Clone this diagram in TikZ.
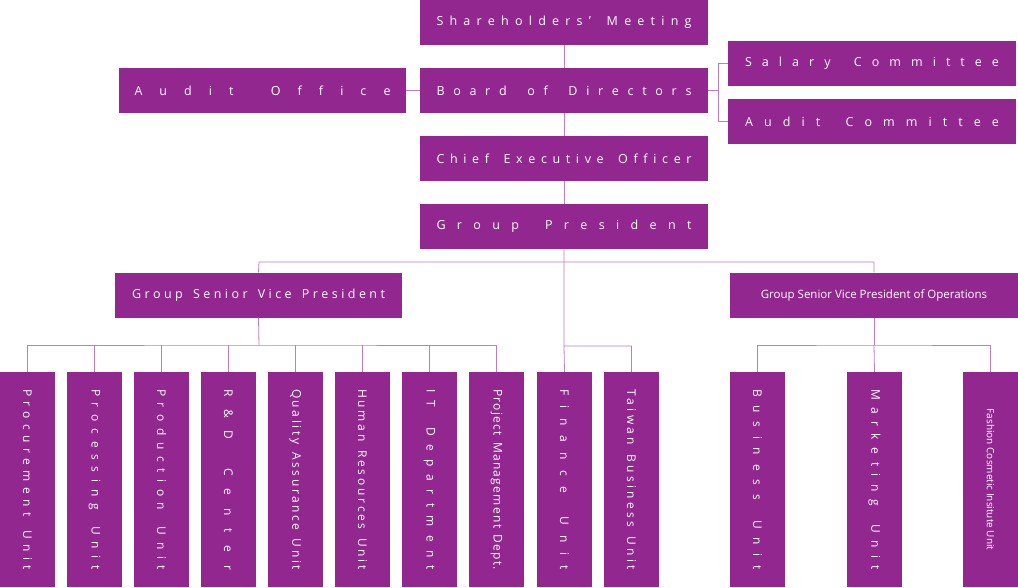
\documentclass[tikz,border=0pt]{standalone}
\usepackage{fontspec}
\setmainfont{Open Sans}
\ExplSyntaxOn
\cs_generate_variant:Nn \tl_map_inline:nn {o}
\NewDocumentCommand\spread{m m}{\makebox[#1pt][s]{\tl_map_inline:on{#2}{##1\hfil}\unskip}}
\ExplSyntaxOff
\definecolor{pu}{HTML}{92278F}
\definecolor{ln}{HTML}{C27BC0}
\begin{document}
\begin{tikzpicture}[x=1pt,y=-1pt,
 box/.style={fill=pu,text=white,inner sep=0,font=\fontsize{12.5}{14}\selectfont},
 hb/.style={box,minimum width=288,minimum height=45},
 vb/.style={box,minimum width=215,minimum height=55,rotate=-90,font=\fontsize{12}{14}\selectfont},
 ln/.style={draw=ln,line width=0.8pt}]
\useasboundingbox (0,0) rectangle (1018,587);
\node[hb] (sh) at (564,22.5) {\spread{255}{Shareholders'~Meeting}};
\node[hb] (bd) at (564,90.5) {\spread{255}{Board~of~Directors}};
\node[hb,minimum width=287] (ao) at (262.5,90.5) {\spread{256}{Audit~Office}};
\node[hb] (sc) at (872,63.5) {\spread{254}{Salary~Committee}};
\node[hb] (ac) at (872,121.5) {\spread{254}{Audit~Committee}};
\node[hb] (ceo) at (564,158.5) {\spread{255}{Chief~Executive~Officer}};
\node[hb] (gp) at (564,226.5) {\spread{255}{Group~President}};
\node[hb,minimum width=287] (gs) at (258.5,295) {\spread{253}{Group~Senior~Vice~President}};
\node[hb,font=\fontsize{11.5}{14}\selectfont] (go) at (874,295) {Group Senior Vice President of Operations};
\foreach \n/\x/\t in {p1/27.5/Procurement~Unit,p2/94.5/Processing~Unit,p3/161.5/Production~Unit,p4/228.5/R\&D~Center,p5/295.5/Quality~Assurance~Unit,p6/362.5/Human~Resources~Unit,p7/429.5/IT~Department,p8/496.5/Project~Management~Dept.,f1/564.5/Finance~Unit,f2/631.5/Taiwan~Business~Unit,o1/757.5/Business~Unit,o2/874.5/Marketing~Unit}
 \node[vb] (\n) at (\x,479.5) {\spread{181}{\t}};
\node[vb,font=\fontsize{10}{12}\selectfont] (o3) at (990.5,479.5) {Fashion Cosmetic Insitute Unit};
\draw[ln] (sh) -- (bd) (bd) -- (ceo) (ceo) -- (gp) (ao) -- (bd);
\draw[ln] (bd.east) -- ++(10,0) coordinate (k) (k |- sc.west) -- (k |- ac.west) (k |- sc.west) -- (sc.west) (k |- ac.west) -- (ac.west);
\draw[ln] (gp.south) -- (564,346) coordinate (fj) -| (f2.west) (fj) -- (f1.west);
\draw[ln] (gs.north) -- (259,262) -| (go.north);
\draw[ln] (gs.south) -- (259,345) coordinate (gj);
\draw[ln] (p1.west) |- (gj) -| (p8.west);
\foreach \n in {p2,p3,p4,p5,p6,p7} \draw[ln] (\n.west) -- (\n.west |- gj);
\draw[ln] (go.south) -- (874,345) coordinate (oj);
\draw[ln] (o1.west) |- (oj) -| (o3.west);
\draw[ln] (o2.west) -- (oj);
\end{tikzpicture}
\end{document}
